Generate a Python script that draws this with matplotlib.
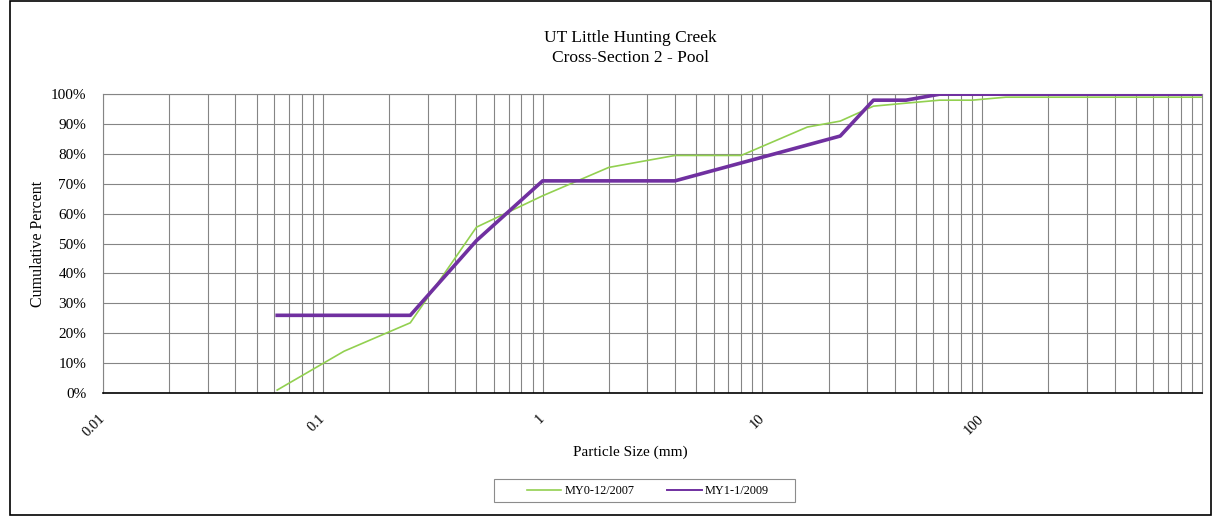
import matplotlib
matplotlib.use('Agg')
import matplotlib.pyplot as plt
from matplotlib.ticker import FuncFormatter, LogLocator, NullFormatter, MultipleLocator
from matplotlib.patches import Rectangle
from matplotlib.lines import Line2D

plt.rcParams['font.family'] = ['Liberation Serif', 'DejaVu Serif']

# particle size classes (mm)
size_my0 = [0.062, 0.125, 0.25, 0.5, 1, 2, 4, 8, 16, 22.6, 32, 45, 64, 90, 128, 180, 256, 362, 512, 1024]
pct_my0 = [1, 14, 23.5, 55.5, 66, 75.5, 79.5, 79.5, 89, 91, 96, 97, 98, 98, 99, 99, 99, 99, 99, 99]

size_my1 = [0.062, 0.125, 0.25, 0.5, 1, 2, 4, 8, 16, 22.6, 32, 45, 64, 90, 128, 180, 256, 362, 512, 1024]
pct_my1 = [26, 26, 26, 51, 71, 71, 71, 77, 83, 86, 98, 98, 100, 100, 100, 100, 100, 100, 100, 100]

xticks = [0.01, 0.1, 1, 10, 100]
xticklabels = ['0.01', '0.1', '1', '10', '100']

green = '#92D050'
purple = '#7030A0'
W, H = 1215, 517

fig = plt.figure(figsize=(12.15, 5.17), dpi=100)
ax = fig.add_axes([0.0848, 0.2398, 0.9045, 0.578])

ax.plot(size_my0, pct_my0, color=green, lw=1.2, zorder=3)
ax.plot(size_my1, pct_my1, color=purple, lw=2.6, zorder=4)

ax.set_xscale('log')
ax.set_xlim(0.01, 1000)
ax.set_ylim(0, 100)
ax.yaxis.set_major_locator(MultipleLocator(10))
ax.yaxis.set_major_formatter(FuncFormatter(lambda v, p: '%d%%' % v))
ax.set_xticks(xticks)
ax.set_xticklabels(xticklabels, rotation=45, ha='right', va='center',
                   rotation_mode='anchor', fontsize=10.5)
ax.xaxis.set_minor_locator(LogLocator(base=10, subs=range(2, 10)))
ax.xaxis.set_minor_formatter(NullFormatter())
ax.tick_params(axis='both', which='both', length=0)
ax.tick_params(axis='y', labelsize=11, pad=12)
ax.tick_params(axis='x', pad=17)

ax.grid(True, which='major', color='#858585', lw=0.8)
ax.grid(True, which='minor', axis='x', color='#858585', lw=0.8)
ax.set_axisbelow(True)
for s in ['top', 'right', 'left']:
    ax.spines[s].set_color('#858585')
ax.spines['bottom'].set_color('black')
ax.spines['bottom'].set_linewidth(1.2)

ax.set_ylabel('Cumulative Percent', fontsize=11.5)
ax.yaxis.set_label_coords(-0.052, 0.5)

fig.text(0.519, 1 - 38 / H, 'UT Little Hunting Creek', ha='center', va='center', fontsize=12.5)
fig.text(0.519, 1 - 58 / H, 'Cross-Section 2 - Pool', ha='center', va='center', fontsize=12.5)
fig.text(0.519, 1 - 452 / H, 'Particle Size (mm)', ha='center', va='center', fontsize=11)

# legend: frame drawn separately to get the wide side padding
handles = [Line2D([], [], color=green, lw=1.2), Line2D([], [], color=purple, lw=1.4)]
leg = fig.legend(handles, ['MY0-12/2007', 'MY1-1/2009'], loc='center left',
                 bbox_to_anchor=(527 / W, 1 - 491 / H), ncol=2, fontsize=8.8,
                 frameon=False, handlelength=2.8, handletextpad=0.25,
                 columnspacing=2.7, borderpad=0, borderaxespad=0)
fig.patches.append(Rectangle((494 / W, 1 - 502 / H), 301 / W, 23 / H, transform=fig.transFigure,
                             fill=False, edgecolor='#8c8c8c', lw=0.8))

fig.patches.append(Rectangle((0.008, 0.004), 0.989, 0.994, transform=fig.transFigure,
                             fill=False, edgecolor='black', lw=1.2))

fig.savefig('out.png', dpi=100)
